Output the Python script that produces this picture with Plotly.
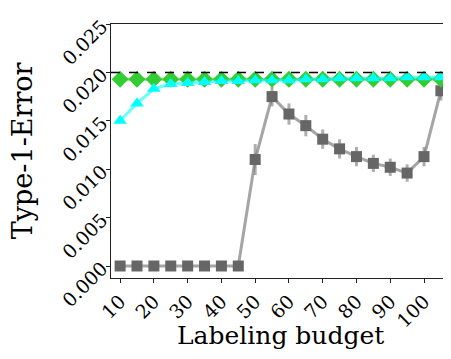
import plotly.graph_objects as go

budget = [10, 15, 20, 25, 30, 35, 40, 45, 50, 55, 60, 65, 70, 75, 80, 85, 90, 95, 100, 105]
tick_vals = [10, 20, 30, 40, 50, 60, 70, 80, 90, 100]
tick_text = ["10", "20", "30", "40", "50", "60", "70", "80", "90", "100"]

green_vals = [0.0193] * 20
cyan_vals = [0.0150, 0.0168, 0.0183, 0.0188, 0.0189, 0.0190, 0.0191, 0.0191, 0.0192, 0.0192,
             0.0192, 0.0193, 0.0193, 0.0194, 0.0194, 0.0194, 0.0194, 0.0195, 0.0195, 0.0195]
gray_vals = [0.0, 0.0, 0.0, 0.0, 0.0, 0.0, 0.0, 0.0, 0.0110, 0.0175, 0.0157, 0.0145, 0.0131,
             0.0121, 0.0113, 0.0106, 0.0102, 0.0096, 0.0113, 0.0181]
gray_err = [0, 0, 0, 0, 0, 0, 0, 0, 0.0016, 0.0010, 0.0011, 0.0011, 0.0010,
            0.0010, 0.0010, 0.0009, 0.0009, 0.0009, 0.0010, 0.0010]
alpha_level = 0.02

FONT = "DejaVu Serif, serif"

fig = go.Figure()

# gray series: line + error bars
fig.add_trace(go.Scatter(
    x=budget, y=gray_vals, mode="lines",
    line=dict(color="rgba(105,105,105,0.6)", width=3),
    error_y=dict(type="data", array=gray_err, color="rgba(120,120,120,0.6)", thickness=3, width=0),
    showlegend=False))
fig.add_trace(go.Scatter(
    x=budget, y=gray_vals, mode="markers",
    marker=dict(symbol="square", color="#666666", size=11),
    showlegend=False))

# green diamonds
fig.add_trace(go.Scatter(
    x=budget, y=green_vals, mode="lines+markers",
    line=dict(color="rgba(50,205,50,0.6)", width=3),
    marker=dict(symbol="diamond", color="#32CD32", size=13),
    showlegend=False))

# cyan triangles
fig.add_trace(go.Scatter(
    x=budget, y=cyan_vals, mode="lines+markers",
    line=dict(color="rgba(0,255,255,0.6)", width=3),
    marker=dict(symbol="triangle-up", color="#00FFFF", size=12),
    showlegend=False))

# dashed reference line
fig.add_trace(go.Scatter(
    x=[7.3, 107.7], y=[alpha_level, alpha_level], mode="lines",
    line=dict(color="black", width=1.5, dash="dash"),
    showlegend=False, hoverinfo="skip"))

axis_common = dict(
    showline=True, linecolor="#222", linewidth=1, mirror=True,
    ticks="outside", ticklen=4, tickcolor="#222",
    showgrid=False, zeroline=False, automargin=False,
    tickfont=dict(family=FONT, size=19, color="black"),
)

fig.update_layout(
    width=451, height=359,
    margin=dict(l=103, r=9, t=16, b=89),
    plot_bgcolor="white", paper_bgcolor="white",
    xaxis=dict(range=[7.3, 107.7], tickvals=tick_vals, ticktext=tick_text, tickangle=-45,
               **axis_common),
    yaxis=dict(range=[-0.00124, 0.025], tickvals=[0, 0.005, 0.01, 0.015, 0.02, 0.025],
               ticktext=["0.000", "0.005", "0.010", "0.015", "0.020", "0.025"], tickangle=-45,
               **axis_common),
    annotations=[
        dict(text="Labeling budget", xref="paper", yref="paper", x=0.5, y=-0.225,
             xanchor="center", yanchor="middle", showarrow=False,
             font=dict(family=FONT, size=25, color="black")),
        dict(text="Type-1-Error", xref="paper", yref="paper", x=-0.262, y=0.5,
             xanchor="center", yanchor="middle", showarrow=False, textangle=-90,
             font=dict(family=FONT, size=27, color="black")),
    ],
)

fig.write_html("out.html")
